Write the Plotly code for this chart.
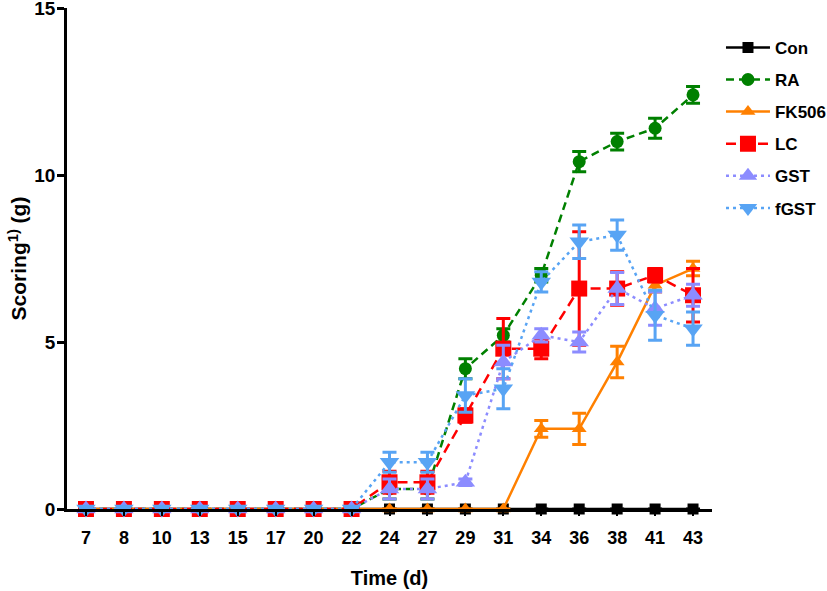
import plotly.graph_objects as go

days = ["7", "8", "10", "13", "15", "17", "20", "22", "24", "27", "29", "31", "34", "36", "38", "41", "43"]

con = [0, 0, 0, 0, 0, 0, 0, 0, 0, 0, 0, 0, 0, 0, 0, 0, 0]
con_err = [0, 0, 0, 0, 0, 0, 0, 0, 0, 0, 0, 0, 0, 0, 0, 0, 0]

ra = [0, 0, 0, 0, 0, 0, 0, 0, 0.6, 0.6, 4.2, 5.2, 7.0, 10.4, 11.0, 11.4, 12.4]
ra_err = [0, 0, 0, 0, 0, 0, 0, 0, 0.3, 0.3, 0.3, 0.2, 0.2, 0.3, 0.25, 0.3, 0.25]

fk506 = [0, 0, 0, 0, 0, 0, 0, 0, 0, 0, 0, 0, 2.4, 2.4, 4.4, 6.7, 7.2]
fk506_err = [0, 0, 0, 0, 0, 0, 0, 0, 0, 0, 0, 0, 0.25, 0.47, 0.47, 0.2, 0.22]

lc = [0, 0, 0, 0, 0, 0, 0, 0, 0.8, 0.8, 2.8, 4.8, 4.8, 6.6, 6.6, 7.0, 6.4]
lc_err = [0, 0, 0, 0, 0, 0, 0, 0, 0.33, 0.33, 0.2, 0.9, 0.3, 1.7, 0.5, 0.2, 0.8]

gst = [0, 0, 0, 0, 0, 0, 0, 0, 0.6, 0.6, 0.8, 4.4, 5.2, 5.0, 6.6, 6.0, 6.4]
gst_err = [0, 0, 0, 0, 0, 0, 0, 0, 0.3, 0.3, 0.1, 0.5, 0.2, 0.3, 0.48, 0.5, 0.33]

fgst = [0, 0, 0, 0, 0, 0, 0, 0, 1.4, 1.4, 3.4, 3.6, 6.8, 8.0, 8.2, 5.8, 5.4]
fgst_err = [0, 0, 0, 0, 0, 0, 0, 0, 0.3, 0.3, 0.5, 0.6, 0.3, 0.5, 0.45, 0.75, 0.5]

series = [
    ("Con", con, con_err, "#000000", "solid", "square", 11),
    ("RA", ra, ra_err, "#008000", "8px,5px", "circle", 13),
    ("FK506", fk506, fk506_err, "#ff8000", "solid", "triangle-up", 13),
    ("LC", lc, lc_err, "#ff0000", "10px,6px", "square", 16),
    ("GST", gst, gst_err, "#8c8cff", "3px,4px", "triangle-up", 17),
    ("fGST", fgst, fgst_err, "#58a4f4", "3px,4px", "triangle-down", 17),
]

FONT = "Liberation Sans, Arial, sans-serif"

fig = go.Figure()
for name, vals, errs, color, dash, sym, size in series:
    fig.add_trace(go.Scatter(
        x=days, y=vals, name=name, mode="lines+markers",
        line=dict(color=color, width=2.5, dash=dash),
        marker=dict(color=color, symbol=sym, size=size),
        error_y=dict(type="data", array=errs, color=color, thickness=3, width=7, visible=True),
        cliponaxis=False, legendgroup=name,
    ))

fig.update_layout(
    width=827, height=591,
    margin=dict(l=67, r=115, t=8, b=82, autoexpand=False),
    plot_bgcolor="white", paper_bgcolor="white",
    font=dict(family=FONT, color="black"),
    showlegend=True,
    legend=dict(
        xref="container", yref="container",
        x=0.8718, y=0.9495, xanchor="left", yanchor="top",
        font=dict(family=FONT, size=17, weight="bold"),
        tracegroupgap=7, itemwidth=44, bgcolor="rgba(0,0,0,0)",
    ),
)
fig.update_xaxes(
    type="category", range=[-0.5, 16.5], automargin=False,
    showline=True, linecolor="black", linewidth=2.5,
    ticks="outside", ticklen=4, tickwidth=2, tickcolor="black",
    showgrid=False, zeroline=False, ticklabelstandoff=7,
    tickfont=dict(family=FONT, size=18, weight="bold"),
    title=dict(text="Time (d)", font=dict(family=FONT, size=20, weight="bold"), standoff=24),
)
fig.update_yaxes(
    range=[0, 15], tickvals=[0, 5, 10, 15], automargin=False,
    showline=True, linecolor="black", linewidth=2.5,
    ticks="outside", ticklen=7, tickwidth=2.5, tickcolor="black",
    showgrid=False, zeroline=False, ticklabelstandoff=-2, ticklabeloverflow="allow",
    tickfont=dict(family=FONT, size=19, weight="bold"),
    title=dict(text="Scoring<sup>1)</sup> (g)", font=dict(family=FONT, size=21, weight="bold"), standoff=2),
)

fig.write_html("out.html", config={"displayModeBar": False},
               post_script="document.body.style.margin='0';")
